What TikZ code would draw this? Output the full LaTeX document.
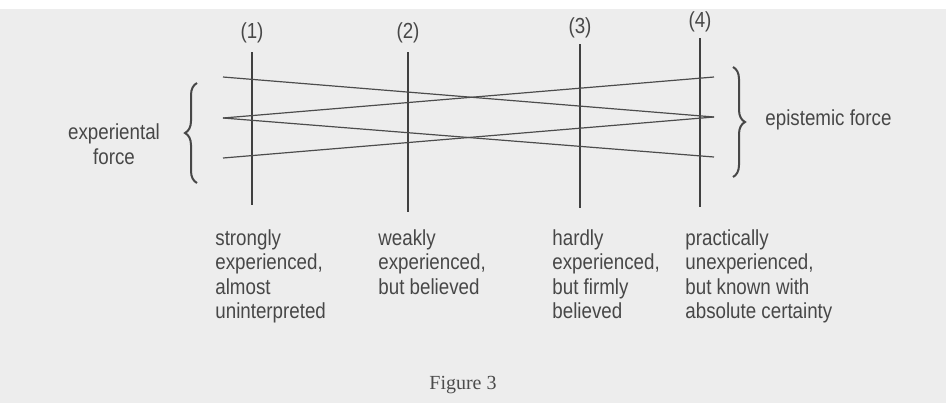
\documentclass[tikz,border=0pt]{standalone}
\usepackage{fontspec}
\setmainfont{Liberation Serif}
\newfontfamily\condsans[FakeStretch=0.86]{Liberation Sans}
\usetikzlibrary{decorations.pathreplacing}

\begin{document}
\begin{tikzpicture}[x=0.5pt,y=-0.5pt,
    lbl/.style={font=\condsans\fontsize{10.9}{12.25}\selectfont,text=black!72,inner sep=0pt},
    bar/.style={line width=1pt,draw=black!75},
    cross/.style={line width=0.6pt,draw=black!70},
    brc/.style={decorate,decoration={brace,amplitude=6pt},line width=1pt,draw=black!72}]
                      \useasboundingbox (0,0) rectangle (946,403);
                      \fill[black!7](0,9)rectangle(946,403);
                      % the four columns
                      \foreach \n/\x/\t/\b/\l in {1/252/52/205/33, 2/408/52/212/33, 3/580/44/208/28, 4/700/38/207/22}{
                        \node[lbl](n\n)at(\x,\l){(\n)};
                        \coordinate(t\n)at(\x,\t);
                        \coordinate(b\n)at(\x,\b);
                        \draw[bar](t\n)--(b\n);
                      }
                      % ends of the crossing lines
                      \coordinate(lt)at(223,77);
                      \coordinate(lm)at(223,118);
                      \coordinate(lb)at(223,158);
                      \coordinate(rt)at(714,77);
                      \coordinate(rm)at(714,117);
                      \coordinate(rb)at(714,157);
                      \draw[cross](lt)--(rm);
                      \draw[cross](lm)--(rt);
                      \draw[cross](lm)--(rb);
                      \draw[cross](lb)--(rm);
                      % braces
                      \coordinate(bl1)at(197,183);
                      \coordinate(bl2)at(197,83);
                      \coordinate(br1)at(733,67);
                      \coordinate(br2)at(733,177);
                      \draw[brc](bl1)--(bl2);
                      \draw[brc](br1)--(br2);
                      \node[lbl,align=center](exp)at(114,144){experiental\\force};
                      \node[lbl,anchor=west](epi)at(765,120){epistemic force};
                      % descriptions below
                      \node[lbl,align=left,anchor=north west](d1)at(215,229){strongly\\experienced,\\almost\\uninterpreted};
                      \node[lbl,align=left,anchor=north west](d2)at(378,229){weakly\\experienced,\\but believed};
                      \node[lbl,align=left,anchor=north west](d3)at(552,229){hardly\\experienced,\\but firmly\\believed};
                      \node[lbl,align=left,anchor=north west](d4)at(685,229){practically\\unexperienced,\\but known with\\absolute certainty};
                      \node[font=\fontsize{10}{12}\selectfont,text=black!70,inner sep=0pt](cap)at(463,385){Figure 3};
                  \end{tikzpicture}
\end{document}
